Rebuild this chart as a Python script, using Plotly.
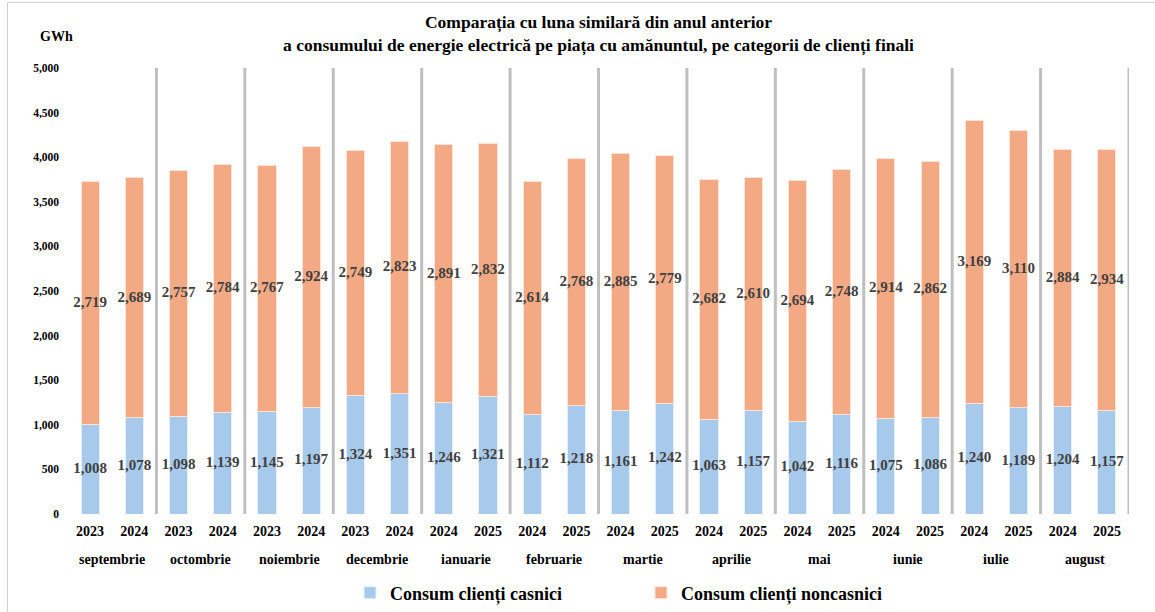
import plotly.graph_objects as go

months = ["septembrie", "octombrie", "noiembrie", "decembrie", "ianuarie", "februarie",
          "martie", "aprilie", "mai", "iunie", "iulie", "august"]
years = ["2023", "2024", "2023", "2024", "2023", "2024", "2023", "2024",
         "2024", "2025", "2024", "2025", "2024", "2025", "2024", "2025",
         "2024", "2025", "2024", "2025", "2024", "2025", "2024", "2025"]
casnici = [1008, 1078, 1098, 1139, 1145, 1197, 1324, 1351, 1246, 1321, 1112, 1218,
           1161, 1242, 1063, 1157, 1042, 1116, 1075, 1086, 1240, 1189, 1204, 1157]
noncasnici = [2719, 2689, 2757, 2784, 2767, 2924, 2749, 2823, 2891, 2832, 2614, 2768,
              2885, 2779, 2682, 2610, 2694, 2748, 2914, 2862, 3169, 3110, 2884, 2934]

month_of_bar = [m for m in months for _ in range(2)]
cats = [f"{m} {y}" for m, y in zip(month_of_bar, years)]

FONT = "Liberation Serif"
BLUE = "#A7CAEC"
ORANGE = "#F3AA84"
LBL = "#404040"

# plot area geometry (px) used for paper-coordinate conversions
L, R, T, B = 68, 26, 68, 98
W, H = 1155, 612
PW, PH = W - L - R, H - T - B

fig = go.Figure()
fig.add_bar(x=cats, y=casnici, name="Consum clienți casnici",
            marker=dict(color=BLUE, line=dict(color="#E6EFF8", width=1)))
fig.add_bar(x=cats, y=noncasnici, name="Consum clienți noncasnici",
            marker=dict(color=ORANGE, line=dict(color="#FBE3D6", width=1)))

mid_c = [c / 2 for c in casnici]
mid_n = [c + n / 2 for c, n in zip(casnici, noncasnici)]
lblfont = dict(family=FONT, size=15, color=LBL, weight="bold")
fig.add_scatter(x=cats, y=mid_c, mode="text", text=[f"{v:,}" for v in casnici],
                textfont=lblfont, showlegend=False, hoverinfo="skip")
fig.add_scatter(x=cats, y=mid_n, mode="text", text=[f"{v:,}" for v in noncasnici],
                textfont=lblfont, showlegend=False, hoverinfo="skip")

# group separators and month labels
for g, m in enumerate(months):
    pos = 2 * g + 1.5
    fig.add_shape(type="line", x0=pos, x1=pos, y0=0, y1=5000, xref="x", yref="y",
                  line=dict(color="#BFBFBF", width=3), layer="below")
    fig.add_annotation(text=m, x=2 * g + 0.5, xref="x", yref="paper",
                       y=-(559 - (H - B)) / PH, yanchor="middle", showarrow=False,
                       font=dict(family=FONT, size=14, color="black", weight="bold"))

# chart-area border (left and top edges visible)
bx = (7.5 - L) / PW
by = 1 + (T - 2.5) / PH
fig.add_shape(type="line", xref="paper", yref="paper", x0=bx, x1=bx, y0=by, y1=-(B + 5) / PH,
              line=dict(color="#D0D0D0", width=1))
fig.add_shape(type="line", xref="paper", yref="paper", x0=bx, x1=1 + (R + 5) / PW, y0=by, y1=by,
              line=dict(color="#D0D0D0", width=1))

fig.update_layout(
    width=W, height=H,
    barmode="stack", bargap=0.59,
    plot_bgcolor="white", paper_bgcolor="white",
    margin=dict(l=L, r=R, t=T, b=B, autoexpand=False),
    font=dict(family=FONT, color="black"),
    title=dict(text="Comparația cu luna similară din anul anterior<br>a consumului de energie electrică pe piața cu amănuntul, pe categorii de clienți finali",
               x=0.5, xref="paper", xanchor="center", y=1 - 28 / H, yref="container", yanchor="middle",
               font=dict(family=FONT, size=17.5, color="black", weight="bold")),
    legend=dict(orientation="h", xref="paper", x=(350 - L) / PW, xanchor="left",
                yref="container", y=(H - 593) / H, yanchor="middle",
                font=dict(family=FONT, size=18, color="black", weight="bold"),
                entrywidth=246, itemwidth=30, traceorder="normal",
                bgcolor="rgba(0,0,0,0)"),
    showlegend=True,
)
fig.update_xaxes(type="category", tickmode="array", tickvals=cats, ticktext=years,
                 showgrid=False, ticks="", showline=False, automargin=False,
                 ticklabelstandoff=7,
                 tickfont=dict(family=FONT, size=14, color="black", weight="bold"),
                 range=[-0.5, 23.5])
fig.update_yaxes(range=[0, 5000], dtick=500, tickformat=",", showgrid=False,
                 showline=False, zeroline=False, automargin=False, ticklabelstandoff=8,
                 tickfont=dict(family=FONT, size=11.5, color="black", weight="bold"))
fig.add_annotation(text="GWh", xref="paper", yref="paper", x=(56 - L) / PW, y=1 + (T - 37) / PH,
                   showarrow=False, xanchor="center", yanchor="middle",
                   font=dict(family=FONT, size=14, color="black", weight="bold"))

fig.write_html("out.html", config={"displayModeBar": False},
               post_script="document.body.style.margin='0';")
